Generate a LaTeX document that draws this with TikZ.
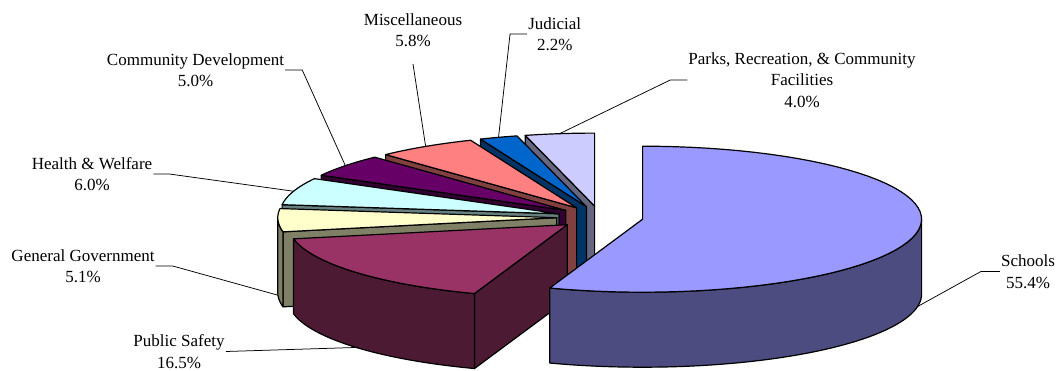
\documentclass[tikz,border=0pt]{standalone}
\usepackage{fontspec}
\setmainfont{Liberation Serif}

% slice fills: top face and darker side faces
\definecolor{schT}{HTML}{9999FF}\definecolor{schS}{HTML}{4C4C80}
\definecolor{psT}{HTML}{993366}\definecolor{psS}{HTML}{4D1A33}
\definecolor{ggT}{HTML}{FFFFCC}\definecolor{ggS}{HTML}{808066}
\definecolor{hwT}{HTML}{CCFFFF}\definecolor{hwS}{HTML}{668080}
\definecolor{cdT}{HTML}{660066}\definecolor{cdS}{HTML}{330033}
\definecolor{miscT}{HTML}{FF8080}\definecolor{miscS}{HTML}{804040}
\definecolor{judT}{HTML}{0066CC}\definecolor{judS}{HTML}{003366}
\definecolor{parksT}{HTML}{CCCCFF}\definecolor{parksS}{HTML}{666680}

% pie geometry: ellipse radii and thickness
\def\pieRX{279}\def\pieRY{73}\def\pieDep{75}

% top face: centre x, centre y, start angle, end angle, fill
\newcommand\pietop[5]{\path[edge,fill=#5] (#1,#2) -- plot[domain=#3:#4,samples=60,variable=\t] ({#1+\pieRX*sin(\t)},{#2-\pieRY*cos(\t)}) -- cycle;}
% radial cut face at one angle: centre x, centre y, angle, fill
\newcommand\piecut[4]{\path[edge,fill=#4] (#1,#2) -- ({#1+\pieRX*sin(#3)},{#2-\pieRY*cos(#3)}) -- ++(0,\pieDep) -- (#1,{#2+\pieDep}) -- cycle;}
% outer rim between two angles: centre x, centre y, from, to, fill
\newcommand\piewall[5]{\path[edge,fill=#5] plot[domain=#3:#4,samples=50,variable=\t] ({#1+\pieRX*sin(\t)},{#2-\pieRY*cos(\t)}) -- plot[domain=#3:#4,samples=50,variable=\t] ({#1+\pieRX*sin(#3+#4-\t)},{#2+\pieDep-\pieRY*cos(#3+#4-\t)}) -- cycle;}

\begin{document}
\begin{tikzpicture}[x=1pt,y=-1pt,
  edge/.style={draw=black,line width=1.2pt,line join=round},
  lbl/.style={font=\fontsize{17}{21.5}\selectfont,align=center,inner sep=1pt},
  leader/.style={draw=black,line width=0.75pt}]
\useasboundingbox (0,0) rectangle (1060,370);

% slices, back to front
\piecut{594.6}{206.1}{345.6}{parksS}
\pietop{594.6}{206.1}{345.6}{360}{parksT}
\piecut{586.4}{206.6}{337.68}{judS}
\pietop{586.4}{206.6}{337.68}{345.6}{judT}
\piecut{576.6}{207.8}{316.8}{miscS}
\pietop{576.6}{207.8}{316.8}{337.68}{miscT}
\piecut{565.8}{210.4}{298.8}{cdS}
\pietop{565.8}{210.4}{298.8}{316.8}{cdT}
\piecut{558.9}{213.8}{277.2}{hwS}
\pietop{558.9}{213.8}{277.2}{298.8}{hwT}
\piecut{556.8}{217.7}{258.84}{ggS}
\piewall{556.8}{217.7}{258.84}{270}{ggS}
\pietop{556.8}{217.7}{258.84}{277.2}{ggT}
\piecut{567.3}{224.7}{199.44}{psS}
\piewall{567.3}{224.7}{199.44}{258.84}{psS}
\pietop{567.3}{224.7}{199.44}{258.84}{psT}
\piewall{642.6}{219.2}{90}{199.44}{schS}
\pietop{642.6}{219.2}{0}{199.44}{schT}

% leader tips at the middle of each slice's rim
\coordinate (parks-tip) at ({594.6+\pieRX*sin(352.8)},{206.1-\pieRY*cos(352.8)});
\coordinate (jud-tip) at ({586.4+\pieRX*sin(341.64)},{206.6-\pieRY*cos(341.64)});
\coordinate (misc-tip) at ({576.6+\pieRX*sin(327.24)},{207.8-\pieRY*cos(327.24)});
\coordinate (cd-tip) at ({565.8+\pieRX*sin(307.8)},{210.4-\pieRY*cos(307.8)});
\coordinate (hw-tip) at ({558.9+\pieRX*sin(288)},{213.8-\pieRY*cos(288)});
\coordinate (gg-tip) at ({556.8+\pieRX*sin(268.02)},{217.7+\pieDep-\pieRY*cos(268.02)});
\coordinate (ps-tip) at ({567.3+\pieRX*sin(229.14)},{224.7+\pieDep-\pieRY*cos(229.14)});
\coordinate (sch-tip) at ({642.6+\pieRX*sin(99.72)},{219.2+\pieDep-\pieRY*cos(99.72)});

% labels
\node[lbl] (misc-lbl) at (413,30) {Miscellaneous\\5.8\%};
\node[lbl] (cd-lbl) at (195.5,70) {Community Development\\5.0\%};
\node[lbl] (hw-lbl) at (92,174) {Health \& Welfare\\6.0\%};
\node[lbl] (jud-lbl) at (554.7,34) {Judicial\\2.2\%};
\node[lbl] (parks-lbl) at (802,80) {Parks, Recreation, \& Community\\Facilities\\4.0\%};
\node[lbl] (gg-lbl) at (83,266) {General Government\\5.1\%};
\node[lbl] (ps-lbl) at (179,351.5) {Public Safety\\16.5\%};
\node[lbl] (sch-lbl) at (1028,271.5) {Schools\\55.4\%};

% leader lines
\draw[leader] ([yshift=-16pt]misc-lbl.south) -- (misc-tip);
\draw[leader] (cd-lbl.east) -- ++(17,0) -- (cd-tip);
\draw[leader] (hw-lbl.east) -- ++(16,0) -- (hw-tip);
\draw[leader] (jud-lbl.west) -- ++(-17,0) -- (jud-tip);
\draw[leader] (parks-lbl.west) -- ++(-17,0) -- (parks-tip);
\draw[leader] (gg-lbl.east) -- ++(17,0) -- (gg-tip);
\draw[leader] (ps-lbl.east) -- (ps-tip);
\draw[leader] (sch-lbl.west) -- ++(-19,0) -- (sch-tip);
\end{tikzpicture}
\end{document}
